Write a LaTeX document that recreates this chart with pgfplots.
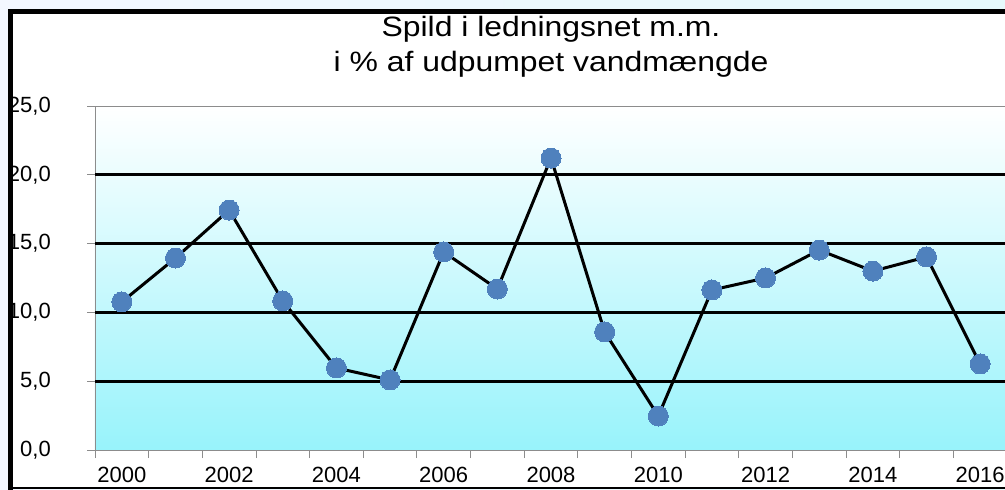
\documentclass[border=0pt]{standalone}
\usepackage{pgfplots}
\pgfplotsset{compat=1.18}
\usepackage{fontspec}
\setmainfont{Liberation Sans}
\newfontfamily\titlefont[FakeStretch=1.14]{Liberation Sans}
\definecolor{mk}{RGB}{79,129,189}
\definecolor{bgbot}{RGB}{152,243,251}
\definecolor{outl}{RGB}{243,247,255}
\definecolor{outr}{RGB}{230,250,252}
\begin{document}
\begin{tikzpicture}[x=1pt,y=1pt]
\shade[left color=outl, right color=outr] (0,0) rectangle (1005,490);
\fill[white] (10,1) rectangle (1010,479);
\draw[black, line width=5pt] (10.5,0) -- (10.5,478.5) -- (1010,478.5);
\draw[black, line width=2pt] (8,2) -- (1010,2);
\node[font=\titlefont\fontsize{28}{35}\selectfont, anchor=base, inner sep=0pt] at (551,453.3) {Spild i ledningsnet m.m.};
\node[font=\titlefont\fontsize{28}{35}\selectfont, anchor=base, inner sep=0pt] at (551,418.3) {i \% af udpumpet vandmængde};
\begin{axis}[at={(95pt,40pt)}, anchor=south west, scale only axis,
  width=912pt, height=344pt,
  xmin=1999.5, xmax=2016.5, ymin=0, ymax=25,
  axis line style={black!45, line width=0.8pt},
  tick style={black!45, line width=0.8pt},
  tick align=outside, major tick length=8pt,
  xtick pos=bottom, ytick pos=left,
  axis background/.style={top color=white, bottom color=bgbot},
  xtick={1999.5,2000.5,2001.5,2002.5,2003.5,2004.5,2005.5,2006.5,2007.5,2008.5,2009.5,2010.5,2011.5,2012.5,2013.5,2014.5,2015.5,2016.5},
  xticklabels={},
  extra x ticks={2000,2002,2004,2006,2008,2010,2012,2014,2016},
  extra x tick labels={2000,2002,2004,2006,2008,2010,2012,2014,2016},
  extra x tick style={major tick length=0pt},
  ytick={0,25}, yticklabels={{0,0},{25,0}},
  extra y ticks={5,10,15,20},
  extra y tick labels={{5,0},{10,0},{15,0},{20,0}},
  extra y tick style={ymajorgrids=true, major grid style={black, line width=3pt}},
  ticklabel style={font=\fontsize{22}{26}\selectfont},
  yticklabel style={anchor=east, inner sep=0pt, xshift=-36pt},
  xticklabel style={anchor=north, inner sep=0pt, yshift=-17pt},
  clip=false,
]
\addplot[black, line width=3pt, mark=*, mark size=10pt, mark options={fill=mk, draw=mk, line width=0pt}] coordinates {
(2000,10.76) (2001,13.95) (2002,17.44) (2003,10.83) (2004,5.96) (2005,5.09)
(2006,14.39) (2007,11.70) (2008,21.22) (2009,8.58) (2010,2.47) (2011,11.63)
(2012,12.50) (2013,14.53) (2014,13.00) (2015,14.03) (2016,6.25)
};
\end{axis}
\pgfresetboundingbox
\useasboundingbox (0,0) rectangle (1005,490);
\end{tikzpicture}
\end{document}
